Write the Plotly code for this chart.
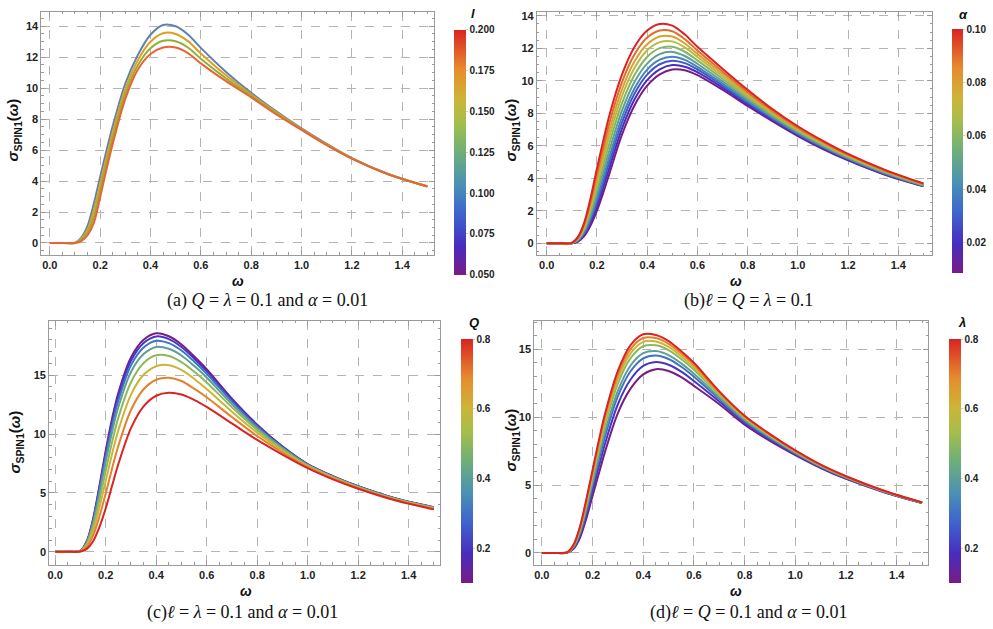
import plotly.graph_objects as go
from plotly.colors import sample_colorscale

# ---------------- data ----------------
W = [0, 0.05, 0.1, 0.125, 0.15, 0.175, 0.2, 0.225, 0.25, 0.3, 0.35, 0.4, 0.45, 0.5,
     0.55, 0.6, 0.7, 0.8, 0.9, 1.0, 1.1, 1.2, 1.35, 1.5]

# panel (a): varying l
a_params = [0.05, 0.10, 0.15, 0.20]
a_l005 = [0, 0, 0.01, 0.35, 1.1, 2.55, 4.27, 5.95, 7.55, 10.3, 12.15, 13.45, 14.08, 14.0, 13.45, 12.6, 11.05, 9.7, 8.5, 7.4, 6.4, 5.48, 4.42, 3.66]
a_l010 = [0, 0, 0.01, 0.27, 0.88, 2.1, 3.8, 5.52, 7.14, 9.94, 11.81, 13.0, 13.55, 13.5, 13.02, 12.24, 10.83, 9.59, 8.43, 7.36, 6.37, 5.47, 4.41, 3.66]
a_l015 = [0, 0, 0.0, 0.19, 0.68, 1.68, 3.35, 5.11, 6.75, 9.6, 11.49, 12.58, 13.06, 13.03, 12.61, 11.9, 10.63, 9.49, 8.36, 7.33, 6.34, 5.46, 4.41, 3.65]
a_l020 = [0, 0, 0.0, 0.12, 0.5, 1.3, 2.95, 4.75, 6.4, 9.3, 11.2, 12.2, 12.62, 12.62, 12.25, 11.6, 10.45, 9.4, 8.3, 7.3, 6.32, 5.45, 4.4, 3.65]
a_curves = [a_l005, a_l010, a_l015, a_l020]

# panel (b): varying alpha
b_params = [0.01, 0.02, 0.03, 0.04, 0.05, 0.06, 0.07, 0.08, 0.09, 0.10]
b_a01 = [0, 0, 0.0, 0.1, 0.45, 1.1, 2.0, 3.1, 4.3, 6.7, 8.5, 9.7, 10.4, 10.7, 10.65, 10.35, 9.45, 8.45, 7.5, 6.6, 5.8, 5.1, 4.2, 3.5]
b_a02 = [0, 0, 0.0, 0.13, 0.54, 1.27, 2.26, 3.42, 4.66, 7.07, 8.86, 10.04, 10.71, 10.97, 10.87, 10.53, 9.58, 8.55, 7.58, 6.66, 5.85, 5.14, 4.23, 3.52]
b_a03 = [0, 0, 0.0, 0.16, 0.62, 1.44, 2.52, 3.74, 5.02, 7.44, 9.22, 10.38, 11.02, 11.24, 11.09, 10.7, 9.71, 8.65, 7.65, 6.72, 5.9, 5.18, 4.26, 3.54]
b_a04 = [0, 0, 0.01, 0.19, 0.70, 1.59, 2.75, 4.03, 5.34, 7.77, 9.54, 10.69, 11.3, 11.48, 11.29, 10.86, 9.83, 8.74, 7.72, 6.77, 5.95, 5.22, 4.29, 3.55]
b_a05 = [0, 0, 0.01, 0.22, 0.79, 1.78, 3.04, 4.38, 5.74, 8.18, 9.94, 11.06, 11.64, 11.78, 11.53, 11.05, 9.97, 8.85, 7.8, 6.84, 6.0, 5.26, 4.32, 3.57]
b_a06 = [0, 0, 0.01, 0.26, 0.89, 1.98, 3.35, 4.76, 6.17, 8.62, 10.37, 11.47, 12.01, 12.1, 11.79, 11.26, 10.13, 8.97, 7.89, 6.91, 6.06, 5.31, 4.36, 3.59]
b_a07 = [0, 0, 0.01, 0.29, 0.99, 2.19, 3.66, 5.15, 6.6, 9.07, 10.8, 11.88, 12.38, 12.43, 12.06, 11.47, 10.28, 9.09, 7.98, 6.98, 6.12, 5.36, 4.39, 3.62]
b_a08 = [0, 0, 0.02, 0.33, 1.09, 2.38, 3.95, 5.5, 7.0, 9.48, 11.2, 12.25, 12.73, 12.73, 12.3, 11.66, 10.43, 9.2, 8.06, 7.05, 6.18, 5.4, 4.43, 3.64]
b_a09 = [0, 0, 0.02, 0.36, 1.19, 2.58, 4.26, 5.88, 7.43, 9.92, 11.63, 12.66, 13.1, 13.05, 12.56, 11.87, 10.58, 9.32, 8.15, 7.12, 6.24, 5.45, 4.46, 3.66]
b_a10 = [0, 0, 0.02, 0.4, 1.3, 2.8, 4.6, 6.3, 7.9, 10.4, 12.1, 13.1, 13.5, 13.4, 12.85, 12.1, 10.75, 9.45, 8.25, 7.2, 6.3, 5.5, 4.5, 3.68]
b_curves = [b_a01, b_a02, b_a03, b_a04, b_a05, b_a06, b_a07, b_a08, b_a09, b_a10]

# panel (c): varying Q
c_params = [0.1, 0.2, 0.3, 0.4, 0.5, 0.6, 0.7, 0.8]
c_q1 = [0, 0, 0.1, 0.9, 2.8, 5.6, 8.6, 11.3, 13.5, 16.5, 18.0, 18.55, 18.3, 17.6, 16.6, 15.5, 13.0, 10.8, 8.95, 7.45, 6.42, 5.57, 4.52, 3.78]
c_q2 = [0, 0, 0.1, 0.87, 2.72, 5.45, 8.39, 11.05, 13.23, 16.22, 17.73, 18.29, 18.06, 17.39, 16.42, 15.34, 12.9, 10.74, 8.92, 7.43, 6.41, 5.56, 4.51, 3.77]
c_q3 = [0, 0, 0.09, 0.83, 2.6, 5.23, 8.08, 10.69, 12.84, 15.83, 17.34, 17.92, 17.72, 17.09, 16.16, 15.12, 12.75, 10.64, 8.87, 7.41, 6.39, 5.54, 4.5, 3.76]
c_q4 = [0, 0, 0.08, 0.77, 2.43, 4.92, 7.65, 10.18, 12.29, 15.27, 16.79, 17.4, 17.24, 16.67, 15.79, 14.8, 12.54, 10.51, 8.8, 7.37, 6.36, 5.52, 4.48, 3.74]
c_q5 = [0, 0, 0.07, 0.67, 2.13, 4.38, 6.89, 9.31, 11.39, 14.4, 16.03, 16.69, 16.62, 16.11, 15.31, 14.38, 12.27, 10.35, 8.71, 7.33, 6.33, 5.49, 4.46, 3.72]
c_q6 = [0, 0, 0.06, 0.56, 1.81, 3.76, 6.03, 8.31, 10.32, 13.35, 15.03, 15.76, 15.85, 15.45, 14.7, 13.82, 11.9, 10.12, 8.58, 7.27, 6.28, 5.45, 4.43, 3.69]
c_q7 = [0, 0, 0.04, 0.41, 1.39, 3.0, 4.96, 7.06, 9.0, 12.04, 13.8, 14.61, 14.78, 14.5, 13.85, 13.12, 11.44, 9.83, 8.43, 7.19, 6.22, 5.41, 4.39, 3.65]
c_q8 = [0, 0, 0.02, 0.25, 0.9, 2.1, 3.7, 5.6, 7.45, 10.5, 12.35, 13.25, 13.5, 13.35, 12.9, 12.3, 10.9, 9.5, 8.25, 7.1, 6.15, 5.35, 4.35, 3.6]
c_curves = [c_q1, c_q2, c_q3, c_q4, c_q5, c_q6, c_q7, c_q8]

# panel (d): varying lambda
d_params = [0.1, 0.2, 0.3, 0.4, 0.5, 0.6, 0.7, 0.8]
d_l1 = [0, 0, 0.02, 0.3, 1.1, 2.5, 4.2, 5.85, 7.5, 10.3, 12.1, 13.15, 13.53, 13.4, 12.95, 12.3, 10.95, 9.45, 8.25, 7.2, 6.25, 5.45, 4.47, 3.67]
d_l2 = [0, 0, 0.03, 0.36, 1.27, 2.79, 4.6, 6.36, 8.09, 10.95, 12.77, 13.77, 14.06, 13.86, 13.35, 12.66, 11.15, 9.59, 8.36, 7.27, 6.3, 5.49, 4.49, 3.68]
d_l3 = [0, 0, 0.03, 0.42, 1.42, 3.06, 4.96, 6.83, 8.62, 11.54, 13.38, 14.33, 14.54, 14.28, 13.71, 12.98, 11.33, 9.71, 8.45, 7.34, 6.35, 5.53, 4.51, 3.69]
d_l4 = [0, 0, 0.04, 0.46, 1.52, 3.24, 5.21, 7.15, 8.98, 11.94, 13.8, 14.71, 14.87, 14.57, 13.96, 13.2, 11.45, 9.79, 8.52, 7.39, 6.38, 5.56, 4.53, 3.7]
d_l5 = [0, 0, 0.04, 0.51, 1.66, 3.48, 5.53, 7.57, 9.46, 12.47, 14.34, 15.22, 15.29, 14.94, 14.28, 13.49, 11.62, 9.91, 8.6, 7.45, 6.43, 5.59, 4.55, 3.71]
d_l6 = [0, 0, 0.04, 0.54, 1.75, 3.63, 5.74, 7.83, 9.77, 12.81, 14.69, 15.54, 15.57, 15.18, 14.49, 13.68, 11.72, 9.98, 8.66, 7.48, 6.45, 5.61, 4.56, 3.71]
d_l7 = [0, 0, 0.05, 0.57, 1.83, 3.77, 5.93, 8.08, 10.05, 13.12, 15.01, 15.83, 15.82, 15.4, 14.68, 13.85, 11.81, 10.04, 8.71, 7.52, 6.48, 5.63, 4.57, 3.72]
d_l8 = [0, 0, 0.05, 0.6, 1.9, 3.9, 6.1, 8.3, 10.3, 13.4, 15.3, 16.1, 16.05, 15.6, 14.85, 14.0, 11.9, 10.1, 8.75, 7.55, 6.5, 5.65, 4.58, 3.72]
d_curves = [d_l1, d_l2, d_l3, d_l4, d_l5, d_l6, d_l7, d_l8]

x_tickvals = [0.0, 0.2, 0.4, 0.6, 0.8, 1.0, 1.2, 1.4]
x_ticktext = ["0.0", "0.2", "0.4", "0.6", "0.8", "1.0", "1.2", "1.4"]

cb_a_ticks = [0.05, 0.075, 0.1, 0.125, 0.15, 0.175, 0.2]
cb_a_text = ["0.050", "0.075", "0.100", "0.125", "0.150", "0.175", "0.200"]
cb_b_ticks = [0.02, 0.04, 0.06, 0.08, 0.10]
cb_b_text = ["0.02", "0.04", "0.06", "0.08", "0.10"]
cb_cd_ticks = [0.2, 0.4, 0.6, 0.8]
cb_cd_text = ["0.2", "0.4", "0.6", "0.8"]

# ---------------- style ----------------
FW, FH = 993, 629
RAINBOW = [[0.0, 'rgb(120,28,134)'], [0.12, 'rgb(72,45,190)'], [0.25, 'rgb(62,100,205)'],
           [0.37, 'rgb(75,145,180)'], [0.5, 'rgb(110,175,120)'], [0.62, 'rgb(165,190,75)'],
           [0.72, 'rgb(205,180,55)'], [0.84, 'rgb(230,140,45)'], [1.0, 'rgb(218,35,35)']]
MMA = ['#5E81B5', '#E19C24', '#8FB032', '#EB6235']


def frac_colors(vals, lo, hi):
    fr = [min(1.0, max(0.0, round((v - lo) / (hi - lo), 6))) for v in vals]
    return sample_colorscale(RAINBOW, fr)


def px_x(p):
    return p / FW


def px_y(p):
    return 1 - p / FH


panels = {
    'a': dict(dom_x=(39.5, 433.3), dom_y=(10, 253.7), xr=(-0.0333, 1.528), yr=(-0.77, 14.92),
              ydt=2, ymin=0.5),
    'b': dict(dom_x=(536, 932.3), dom_y=(10, 254), xr=(-0.039, 1.536), yr=(-0.74, 14.24),
              ydt=2, ymin=0.5),
    'c': dict(dom_x=(47.3, 439.3), dom_y=(320, 564.3), xr=(-0.024, 1.526), yr=(-1.08, 19.6),
              ydt=5, ymin=1),
    'd': dict(dom_x=(533.3, 928.3), dom_y=(320, 564.3), xr=(-0.03, 1.525), yr=(-0.85, 17.08),
              ydt=5, ymin=1),
}

fig = go.Figure()
tickfont = dict(family='Liberation Sans, Arial', size=11, color='#222', weight='bold')
layout = dict(width=FW, height=FH, margin=dict(l=0, r=0, t=0, b=0),
              paper_bgcolor='white', plot_bgcolor='white', showlegend=False)

for i, key in enumerate(['a', 'b', 'c', 'd']):
    p = panels[key]
    sfx = '' if i == 0 else str(i + 1)
    xa = dict(domain=[px_x(p['dom_x'][0]), px_x(p['dom_x'][1])], range=list(p['xr']),
              anchor='y' + sfx, tickvals=x_tickvals, ticktext=x_ticktext,
              showgrid=True, gridcolor='#b4b4b4', griddash='dash', gridwidth=1,
              ticks='inside', ticklen=5, tickcolor='#9a9a9a', tickwidth=1,
              showline=True, linecolor='#9a9a9a', linewidth=1, mirror='allticks',
              zeroline=False, tickfont=tickfont,
              minor=dict(ticks='inside', dtick=0.05, tick0=0, ticklen=2.5, tickcolor='#9a9a9a', showgrid=False))
    ya = dict(domain=[px_y(p['dom_y'][1]), px_y(p['dom_y'][0])], range=list(p['yr']),
              anchor='x' + sfx, dtick=p['ydt'], tick0=0,
              showgrid=True, gridcolor='#b4b4b4', griddash='dash', gridwidth=1,
              ticks='inside', ticklen=5, tickcolor='#9a9a9a', tickwidth=1,
              showline=True, linecolor='#9a9a9a', linewidth=1, mirror='allticks',
              zeroline=False, tickfont=tickfont,
              minor=dict(ticks='inside', dtick=p['ymin'], tick0=0, ticklen=2.5, tickcolor='#9a9a9a', showgrid=False))
    layout['xaxis' + sfx] = xa
    layout['yaxis' + sfx] = ya

fig.update_layout(**layout)


def add_curves(curves, colors, sfx):
    for ys, col in zip(curves, colors):
        fig.add_trace(go.Scatter(x=W, y=ys, mode='lines', xaxis='x' + sfx, yaxis='y' + sfx,
                                 line=dict(color=col, width=2, shape='spline', smoothing=0.9),
                                 hoverinfo='skip'))


add_curves(a_curves, MMA, '')
add_curves(b_curves, frac_colors(b_params, 0.01, 0.10), '2')
add_curves(c_curves, frac_colors(c_params, 0.1, 0.8), '3')
add_curves(d_curves, frac_colors(d_params, 0.1, 0.8), '4')


def add_colorbar(sfx, cmin, cmax, tvals, ttext, x0, thick, ytop, ybot):
    fig.add_trace(go.Scatter(
        x=[0.7], y=[1], mode='markers', xaxis='x' + sfx, yaxis='y' + sfx, hoverinfo='skip',
        marker=dict(size=1, opacity=0, color=[cmin], cmin=cmin, cmax=cmax, colorscale=RAINBOW,
                    showscale=True,
                    colorbar=dict(x=px_x(x0), xanchor='left', xpad=0, ypad=0,
                                  y=px_y((ytop + ybot) / 2), yanchor='middle',
                                  len=(ybot - ytop) / FH, lenmode='fraction',
                                  thickness=thick, thicknessmode='pixels', outlinewidth=0,
                                  tickvals=tvals, ticktext=ttext, ticks='outside', ticklen=2,
                                  tickcolor='#cccccc',
                                  tickfont=dict(family='Liberation Sans, Arial', size=10,
                                                color='#222', weight='bold')))))


add_colorbar('', 0.05, 0.2, cb_a_ticks, cb_a_text, 453.3, 12, 28, 273.3)
add_colorbar('2', 0.0085, 0.1, cb_b_ticks, cb_b_text, 951.5, 11, 27.3, 271.7)
add_colorbar('3', 0.1, 0.8, cb_cd_ticks, cb_cd_text, 460, 12, 338.3, 582.7)
add_colorbar('4', 0.1, 0.8, cb_cd_ticks, cb_cd_text, 949.3, 12, 338.3, 582.7)

annots = []


def ann(text, x, y, size, family='Liberation Sans, Arial', angle=0, color='#111'):
    annots.append(dict(text=text, x=px_x(x), y=px_y(y), xref='paper', yref='paper',
                       xanchor='center', yanchor='middle', showarrow=False, textangle=angle,
                       font=dict(family=family, size=size, color=color)))


ylab = '<b><i>σ</i><sub>SPIN1</sub>(<i>ω</i>)</b>'
ann('<b><i>ω</i></b>', 236.7, 279.5, 14)
ann('<b><i>ω</i></b>', 735, 280, 14)
ann('<b><i>ω</i></b>', 244.3, 590.5, 14)
ann('<b><i>ω</i></b>', 735, 591, 14)
ann(ylab, 12, 128, 15, angle=-90)
ann(ylab, 511, 128, 15, angle=-90)
ann(ylab, 14, 441, 15, angle=-90)
ann(ylab, 511, 439, 15, angle=-90)
ann('<b><i>l</i></b>', 471.7, 12, 13)
ann('<b><i>α</i></b>', 963, 13, 13)
ann('<b><i>Q</i></b>', 472.7, 322, 13)
ann('<b><i>λ</i></b>', 961.7, 322, 13)
serif = 'Liberation Serif, Times New Roman, serif'
ann('(a) <i>Q</i> = <i>λ</i> = 0.1 and <i>α</i> = 0.01', 266, 299.5, 18, family=serif)
ann('(b)<i>ℓ</i> = <i>Q</i> = <i>λ</i> = 0.1', 748, 299.5, 18, family=serif)
ann('(c)<i>ℓ</i> = <i>λ</i> = 0.1 and <i>α</i> = 0.01', 240.5, 612, 18, family=serif)
ann('(d)<i>ℓ</i> = <i>Q</i> = 0.1 and <i>α</i> = 0.01', 748, 612, 18, family=serif)
fig.update_layout(annotations=annots)

fig.write_html('out.html')
